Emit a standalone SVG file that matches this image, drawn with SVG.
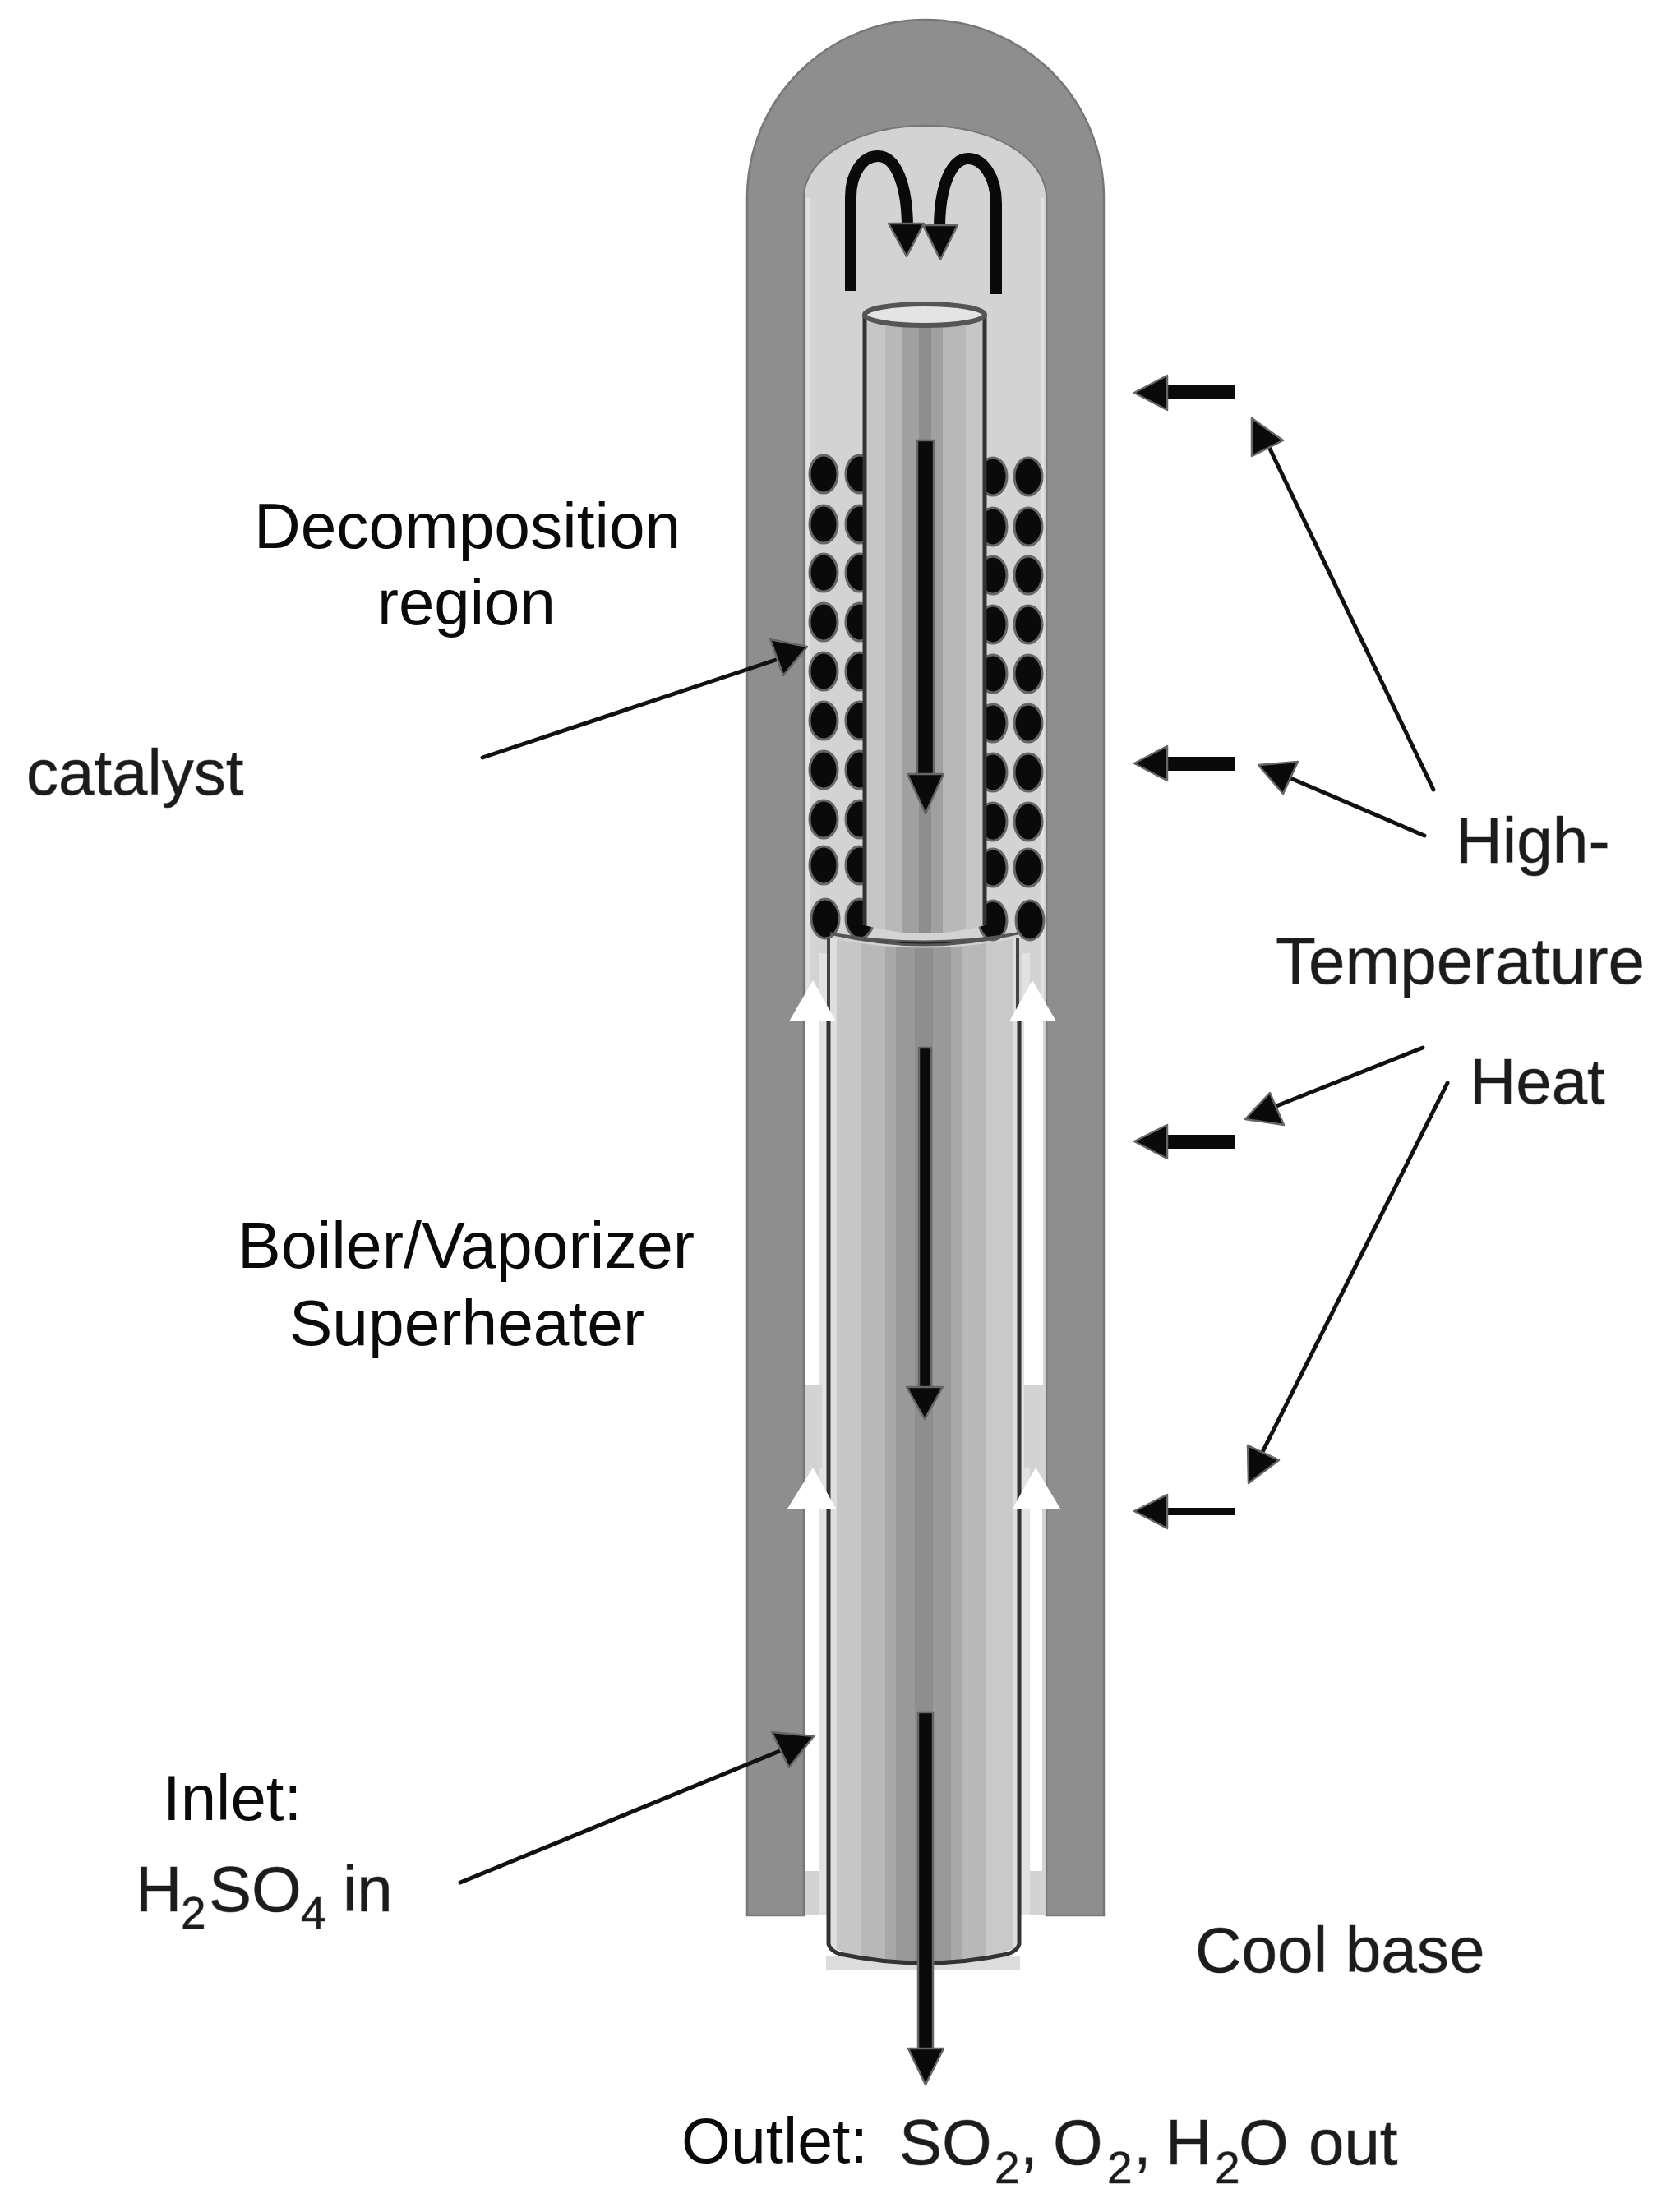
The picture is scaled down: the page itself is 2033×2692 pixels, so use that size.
<svg xmlns="http://www.w3.org/2000/svg" width="2033" height="2692" viewBox="0 0 2033 2692">
<style>
text{font-family:"Liberation Sans",Arial,sans-serif;font-size:78px;fill:#0a0a0a}
.soft{fill:#1c1c1c;stroke:#9a9a9a;stroke-width:1;paint-order:stroke}
.sub{font-size:55px}
.wall{fill:#8e8e8e}
.pellet{fill:#0a0a0a;stroke:#666;stroke-width:3}
.ah{fill:#0a0a0a;stroke:#666;stroke-width:2.5;stroke-linejoin:round}
.ln{stroke:#111;stroke-width:5;stroke-linecap:round;fill:none}
.ln2{stroke:#0a0a0a;stroke-width:14;fill:none}
.wh{fill:#fff}
.lg{fill:#e2e2e2}
</style>
<defs>
<linearGradient id="outerBands" gradientUnits="userSpaceOnUse" x1="1007" y1="0" x2="1242" y2="0">
<stop offset="0" stop-color="#dedede"/><stop offset=".047" stop-color="#dedede"/>
<stop offset=".047" stop-color="#c6c6c6"/><stop offset=".17" stop-color="#c6c6c6"/>
<stop offset=".17" stop-color="#b8b8b8"/><stop offset=".298" stop-color="#b8b8b8"/>
<stop offset=".298" stop-color="#a8a8a8"/><stop offset=".353" stop-color="#a8a8a8"/>
<stop offset=".353" stop-color="#999"/><stop offset=".451" stop-color="#999"/>
<stop offset=".451" stop-color="#8e8e8e"/><stop offset=".545" stop-color="#8e8e8e"/>
<stop offset=".545" stop-color="#999"/><stop offset=".638" stop-color="#999"/>
<stop offset=".638" stop-color="#a8a8a8"/><stop offset=".694" stop-color="#a8a8a8"/>
<stop offset=".694" stop-color="#b8b8b8"/><stop offset=".82" stop-color="#b8b8b8"/>
<stop offset=".82" stop-color="#c9c9c9"/><stop offset=".96" stop-color="#c9c9c9"/>
<stop offset=".96" stop-color="#dedede"/><stop offset="1" stop-color="#dedede"/>
</linearGradient>
<linearGradient id="innerBands" gradientUnits="userSpaceOnUse" x1="1050" y1="0" x2="1198" y2="0">
<stop offset="0" stop-color="#c6c6c6"/><stop offset=".18" stop-color="#c6c6c6"/>
<stop offset=".18" stop-color="#b8b8b8"/><stop offset=".317" stop-color="#b8b8b8"/>
<stop offset=".317" stop-color="#a0a0a0"/><stop offset=".46" stop-color="#a0a0a0"/>
<stop offset=".46" stop-color="#8e8e8e"/><stop offset=".56" stop-color="#8e8e8e"/>
<stop offset=".56" stop-color="#a0a0a0"/><stop offset=".655" stop-color="#a0a0a0"/>
<stop offset=".655" stop-color="#b8b8b8"/><stop offset=".845" stop-color="#b8b8b8"/>
<stop offset=".845" stop-color="#c6c6c6"/><stop offset="1" stop-color="#c6c6c6"/>
</linearGradient>
</defs>
<rect width="2033" height="2692" fill="#fff"/>

<g id="vessel-wall">
<path class="wall" d="M909 2331V241C909 121 1006 24 1126 24S1343 121 1343 241V2331H1273V241C1273 192 1207 153 1126 153S978 192 978 241V2331Z" stroke="#777" stroke-width="2.5"/>
</g>

<g id="vessel-cavity">
<path d="M979 2331V241C979 192 1045 154 1126 154S1272 192 1272 241V2331Z" fill="#d3d3d3"/>
<rect x="981" y="241" width="4" height="1000" fill="#e2e2e2"/>
<rect x="1266" y="241" width="4" height="1000" fill="#e2e2e2"/>
</g>

<g id="catalyst-pellets">
<ellipse class="pellet" cx="1002" cy="577" rx="17" ry="23"/><ellipse class="pellet" cx="1002" cy="638" rx="17" ry="23"/><ellipse class="pellet" cx="1002" cy="697" rx="17" ry="23"/><ellipse class="pellet" cx="1002" cy="757" rx="17" ry="23"/><ellipse class="pellet" cx="1002" cy="817" rx="17" ry="23"/><ellipse class="pellet" cx="1002" cy="877" rx="17" ry="23"/><ellipse class="pellet" cx="1002" cy="937" rx="17" ry="23"/><ellipse class="pellet" cx="1002" cy="997" rx="17" ry="23"/><ellipse class="pellet" cx="1002" cy="1053" rx="17" ry="23"/><ellipse class="pellet" cx="1004" cy="1118" rx="17" ry="24"/>
<ellipse class="pellet" cx="1046" cy="577" rx="17" ry="23"/><ellipse class="pellet" cx="1046" cy="638" rx="17" ry="23"/><ellipse class="pellet" cx="1046" cy="697" rx="17" ry="23"/><ellipse class="pellet" cx="1046" cy="757" rx="17" ry="23"/><ellipse class="pellet" cx="1046" cy="817" rx="17" ry="23"/><ellipse class="pellet" cx="1046" cy="877" rx="17" ry="23"/><ellipse class="pellet" cx="1046" cy="937" rx="17" ry="23"/><ellipse class="pellet" cx="1046" cy="997" rx="17" ry="23"/><ellipse class="pellet" cx="1046" cy="1053" rx="17" ry="23"/><ellipse class="pellet" cx="1046" cy="1118" rx="17" ry="24"/>
<ellipse class="pellet" cx="1208" cy="580" rx="17" ry="23"/><ellipse class="pellet" cx="1208" cy="641" rx="17" ry="23"/><ellipse class="pellet" cx="1208" cy="700" rx="17" ry="23"/><ellipse class="pellet" cx="1208" cy="760" rx="17" ry="23"/><ellipse class="pellet" cx="1208" cy="820" rx="17" ry="23"/><ellipse class="pellet" cx="1208" cy="880" rx="17" ry="23"/><ellipse class="pellet" cx="1208" cy="940" rx="17" ry="23"/><ellipse class="pellet" cx="1208" cy="1000" rx="17" ry="23"/><ellipse class="pellet" cx="1208" cy="1056" rx="17" ry="23"/><ellipse class="pellet" cx="1208" cy="1120" rx="17" ry="24"/>
<ellipse class="pellet" cx="1251" cy="580" rx="17" ry="23"/><ellipse class="pellet" cx="1251" cy="641" rx="17" ry="23"/><ellipse class="pellet" cx="1251" cy="700" rx="17" ry="23"/><ellipse class="pellet" cx="1251" cy="760" rx="17" ry="23"/><ellipse class="pellet" cx="1251" cy="820" rx="17" ry="23"/><ellipse class="pellet" cx="1251" cy="880" rx="17" ry="23"/><ellipse class="pellet" cx="1251" cy="940" rx="17" ry="23"/><ellipse class="pellet" cx="1251" cy="1000" rx="17" ry="23"/><ellipse class="pellet" cx="1251" cy="1056" rx="17" ry="23"/><ellipse class="pellet" cx="1253" cy="1120" rx="17" ry="24"/>
</g>

<g id="inner-tube">
<path d="M1052 383V1126Q1124 1146 1198 1126V383Z" fill="url(#innerBands)"/>
<path d="M1052 383V1126M1198 383V1126" fill="none" stroke="#333" stroke-width="5"/>
<ellipse cx="1125" cy="383" rx="73" ry="13" fill="#e4e4e4" stroke="#555" stroke-width="6"/>
</g>

<g id="flow-stems-white">
<rect class="lg" x="996" y="1160" width="10" height="1171"/>
<rect class="lg" x="1243" y="1160" width="10" height="1171"/>
<rect class="wh" x="980" y="1243" width="16" height="443"/>
<rect class="wh" x="1246" y="1243" width="23" height="443"/>
<rect x="980" y="1686" width="20" height="100" fill="#d3d3d3"/>
<rect x="1246" y="1686" width="24" height="100" fill="#d3d3d3"/>
<rect class="wh" x="980" y="1830" width="16" height="447"/>
<rect class="wh" x="1253" y="1830" width="15" height="447"/>
</g>

<g id="outer-tube">
<rect x="1005" y="2380" width="236" height="17" fill="#dcdcdc"/>
<path d="M1008 1141Q1125 1166 1240 1141V2369Q1125 2414 1008 2369Z" fill="url(#outerBands)"/>
<path d="M1008 1240V2366Q1010 2374 1022 2378Q1125 2400 1226 2378Q1238 2374 1240 2366V1240" fill="none" stroke="#333" stroke-width="5"/>
<path d="M1008 1141V1240M1238 1141V1240" fill="none" stroke="#444" stroke-width="4"/>
<path d="M1010 1136Q1125 1164 1238 1136Q1125 1156 1010 1136Z" fill="#111" stroke="#555" stroke-width="3"/>
</g>

<g id="flow-heads-white">
<polygon class="wh" points="989,1193 1017,1243 960,1243"/>
<polygon class="wh" points="1256,1193 1285,1243 1228,1243"/>
<polygon class="wh" points="989,1786 1017,1836 958,1836"/>
<polygon class="wh" points="1260,1786 1290,1836 1232,1836"/>
</g>

<g id="connectors">
<path class="ln2" d="M1035 354V240C1035 210 1050 190 1068 190C1090 190 1104 225 1104 278"/>
<polygon class="ah" points="1103,312 1081,272 1124,272"/>
<path class="ln2" d="M1212 358V248C1212 215 1196 193 1178 193C1158 193 1143 225 1143 278"/>
<polygon class="ah" points="1144,316 1123,274 1165,274"/>

<rect x="1116" y="536" width="20" height="410" class="ah"/>
<polygon class="ah" points="1126,990 1104,942 1148,942"/>
<rect x="1118" y="1275" width="15" height="420" class="ah"/>
<polygon class="ah" points="1125,1727 1103,1688 1147,1688"/>
<rect x="1117" y="2084" width="18" height="412" class="ah"/>
<polygon class="ah" points="1126,2537 1105,2493 1148,2493"/>

<g id="heat-out-1"><rect x="1420" y="469" width="82" height="17" fill="#0a0a0a"/><polygon class="ah" points="1380,478 1420,457 1420,499"/></g>
<g id="heat-out-2"><rect x="1420" y="921" width="82" height="17" fill="#0a0a0a"/><polygon class="ah" points="1380,929 1420,908 1420,950"/></g>
<g id="heat-out-3"><rect x="1420" y="1381" width="82" height="17" fill="#0a0a0a"/><polygon class="ah" points="1380,1389 1420,1369 1420,1410"/></g>
<g id="heat-out-4"><rect x="1420" y="1835" width="82" height="9" fill="#0a0a0a"/><polygon class="ah" points="1380,1839 1420,1819 1420,1860"/></g>

<line class="ln" x1="1744" y1="961" x2="1542" y2="540"/><polygon class="ah" points="1523,509 1561,536 1523,555"/>
<line class="ln" x1="1733" y1="1017" x2="1570" y2="947"/><polygon class="ah" points="1531,931 1579,927 1561,966"/>
<line class="ln" x1="1731" y1="1275" x2="1553" y2="1346"/><polygon class="ah" points="1515,1362 1545,1330 1562,1369"/>
<line class="ln" x1="1761" y1="1318" x2="1536" y2="1767"/><polygon class="ah" points="1519,1805 1518,1759 1556,1777"/>

<line class="ln" x1="587" y1="922" x2="944" y2="803"/><polygon class="ah" points="982,787 937,778 953,822"/>
<line class="ln" x1="560" y1="2291" x2="951" y2="2130"/><polygon class="ah" points="990,2113 939,2108 960,2151"/>
</g>

<g id="labels">
<text x="309" y="667" style="font-size:78.5px">Decomposition</text>
<text x="459" y="760">region</text>
<text class="soft" x="32" y="967">catalyst</text>
<text x="289" y="1543" style="font-size:79px">Boiler/Vaporizer</text>
<text x="352" y="1637" style="font-size:78.5px">Superheater</text>
<text x="198" y="2215">Inlet:</text>
<text class="soft" x="165" y="2326">H<tspan class="sub" x="220" y="2347">2</tspan><tspan x="254" y="2326">SO</tspan><tspan class="sub" x="366" y="2347">4</tspan><tspan x="417" y="2326">in</tspan></text>
<text class="soft" x="1771" y="1050" style="font-size:78.5px">High-</text>
<text class="soft" x="1552" y="1197" style="font-size:80px">Temperature</text>
<text class="soft" x="1788" y="1343">Heat</text>
<text class="soft" x="1454" y="2400" style="font-size:78.3px">Cool base</text>
<text x="829" y="2632" style="font-size:77px">Outlet:</text>
<text class="soft" x="1094" y="2634">SO<tspan class="sub" x="1210" y="2657">2</tspan><tspan x="1241" y="2634">,</tspan><tspan x="1281" y="2634">O</tspan><tspan class="sub" x="1347" y="2657">2</tspan><tspan x="1379" y="2634">,</tspan><tspan x="1418" y="2634">H</tspan><tspan class="sub" x="1478" y="2657">2</tspan><tspan x="1507" y="2634">O</tspan><tspan x="1592" y="2634">out</tspan></text>
</g>
</svg>
